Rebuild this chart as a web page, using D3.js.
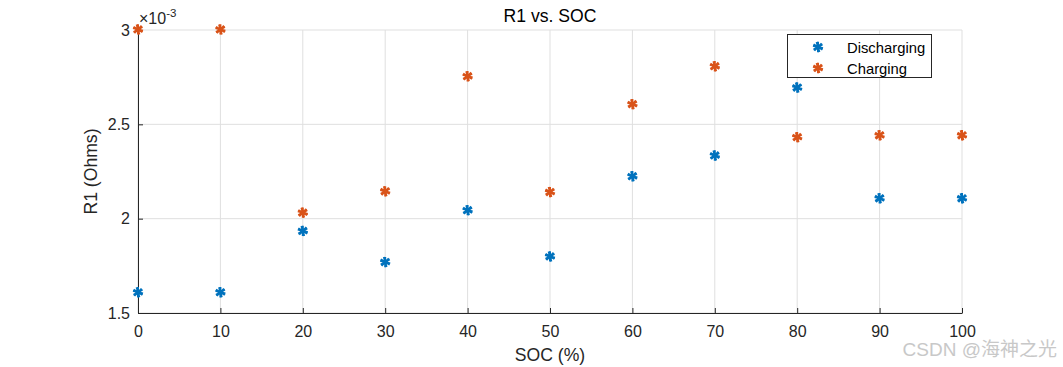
<!DOCTYPE html>
<html>
<head>
<meta charset="utf-8">
<script src="https://cdn.jsdelivr.net/npm/d3@7"></script>
<style>
  body { margin: 0; background: #fff; }
  svg { font-family: "Liberation Sans", Arial, sans-serif; }
</style>
</head>
<body>
<div class="chart"></div>
<script>
// data (R1 in units of 1e-3 Ohms)
var soc = [0, 10, 20, 30, 40, 50, 60, 70, 80, 90, 100];
var discharging = [1.61, 1.61, 1.935, 1.77, 2.045, 1.80, 2.225, 2.335, 2.695, 2.108, 2.108];
var charging = [3.003, 3.003, 2.032, 2.145, 2.755, 2.141, 2.607, 2.808, 2.432, 2.442, 2.442];
var xTicks = [0, 10, 20, 30, 40, 50, 60, 70, 80, 90, 100];
var yTicks = [1.5, 2, 2.5, 3];
var seriesNames = ['Discharging', 'Charging'];
var seriesColors = ['#0072BD', '#D95319'];

var width = 1063, height = 367;
var margin = {left: 138, right: 101, top: 30, bottom: 54};

var svg = d3.select('.chart').append('svg')
  .attr('width', width)
  .attr('height', height);

var x = d3.scaleLinear().domain([0, 100]).range([margin.left, width - margin.right]);
var y = d3.scaleLinear().domain([1.5, 3]).range([height - margin.bottom, margin.top]);

// grid
var grid = svg.append('g').attr('class', 'grid');
grid.selectAll('.vgrid').data(xTicks).enter().append('line')
  .attr('x1', x).attr('x2', x)
  .attr('y1', y(1.5)).attr('y2', y(3))
  .attr('stroke', '#dfdfdf').attr('stroke-width', 1);
grid.selectAll('.hgrid').data(yTicks).enter().append('line')
  .attr('x1', x(0)).attr('x2', x(100))
  .attr('y1', y).attr('y2', y)
  .attr('stroke', '#dfdfdf').attr('stroke-width', 1);

// axes
var xAxis = d3.axisBottom(x).tickValues(xTicks).tickSizeInner(-5).tickSizeOuter(0).tickPadding(13);
var yAxis = d3.axisLeft(y).tickValues(yTicks).tickSizeInner(-5).tickSizeOuter(0).tickPadding(8)
  .tickFormat(d3.format('~g'));

var gx = svg.append('g')
  .attr('transform', 'translate(0,' + y(1.5) + ')')
  .call(xAxis);
var gy = svg.append('g')
  .attr('transform', 'translate(' + x(0) + ',0)')
  .call(yAxis);

[gx, gy].forEach(function(g) {
  g.select('.domain').attr('stroke', '#262626');
  g.selectAll('.tick line').attr('stroke', '#262626');
  g.selectAll('.tick text')
    .attr('fill', '#262626')
    .style('font-size', '16px')
    .style('font-family', '"Liberation Sans", Arial, sans-serif');
});

// exponent label
var expo = svg.append('text')
  .attr('x', x(0) + 1)
  .attr('y', 24)
  .attr('fill', '#262626')
  .style('font-size', '16px');
expo.append('tspan').text('\u00d710');
expo.append('tspan').attr('dy', -7).style('font-size', '11.5px').text('-3');

// title and labels
svg.append('text')
  .attr('x', (x(0) + x(100)) / 2)
  .attr('y', 21.5)
  .attr('text-anchor', 'middle')
  .attr('fill', '#000')
  .style('font-size', '17.6px')
  .text('R1 vs. SOC');

svg.append('text')
  .attr('x', (x(0) + x(100)) / 2)
  .attr('y', 361)
  .attr('text-anchor', 'middle')
  .attr('fill', '#262626')
  .style('font-size', '17.6px')
  .text('SOC (%)');

svg.append('text')
  .attr('transform', 'translate(97,' + ((y(1.5) + y(3)) / 2) + ') rotate(-90)')
  .attr('text-anchor', 'middle')
  .attr('fill', '#262626')
  .style('font-size', '17.6px')
  .text('R1 (Ohms)');

// asterisk marker
var star = d3.symbol().type(d3.symbolAsterisk).size(75);
function drawStar(g, color) {
  g.append('path').attr('d', star()).attr('fill', 'none').attr('stroke', color).attr('stroke-width', 2);
  g.append('path').attr('d', star()).attr('transform', 'rotate(45)').attr('fill', 'none').attr('stroke', color).attr('stroke-width', 2);
  g.append('circle').attr('r', 2.5).attr('fill', color);
}

var allSeries = [discharging, charging];
allSeries.forEach(function(values, si) {
  var pts = svg.append('g').attr('class', 'series')
    .selectAll('.pt').data(soc).enter().append('g')
    .attr('class', 'pt')
    .attr('transform', function(d, i) { return 'translate(' + x(d) + ',' + y(values[i]) + ')'; });
  pts.each(function() { drawStar(d3.select(this), seriesColors[si]); });
});

// legend
var legend = svg.append('g').attr('class', 'legend');
legend.append('rect')
  .attr('x', 787.5).attr('y', 34.5)
  .attr('width', 144).attr('height', 43)
  .attr('fill', '#fff').attr('stroke', '#262626').attr('stroke-width', 1);
seriesNames.forEach(function(name, i) {
  var row = legend.append('g').attr('transform', 'translate(818,' + (47 + i * 21) + ')');
  drawStar(row, seriesColors[i]);
  row.append('text')
    .attr('x', 29).attr('y', 5.5)
    .attr('fill', '#000')
    .style('font-size', '14.8px')
    .text(name);
});

// watermark
svg.append('text')
  .attr('x', 1057).attr('y', 356)
  .attr('text-anchor', 'end')
  .attr('fill', '#c8c8c8')
  .style('font-size', '19px')
  .style('font-family', '"Liberation Sans", "Noto Sans CJK SC", sans-serif')
  .text('CSDN @海神之光');
</script>
</body>
</html>
